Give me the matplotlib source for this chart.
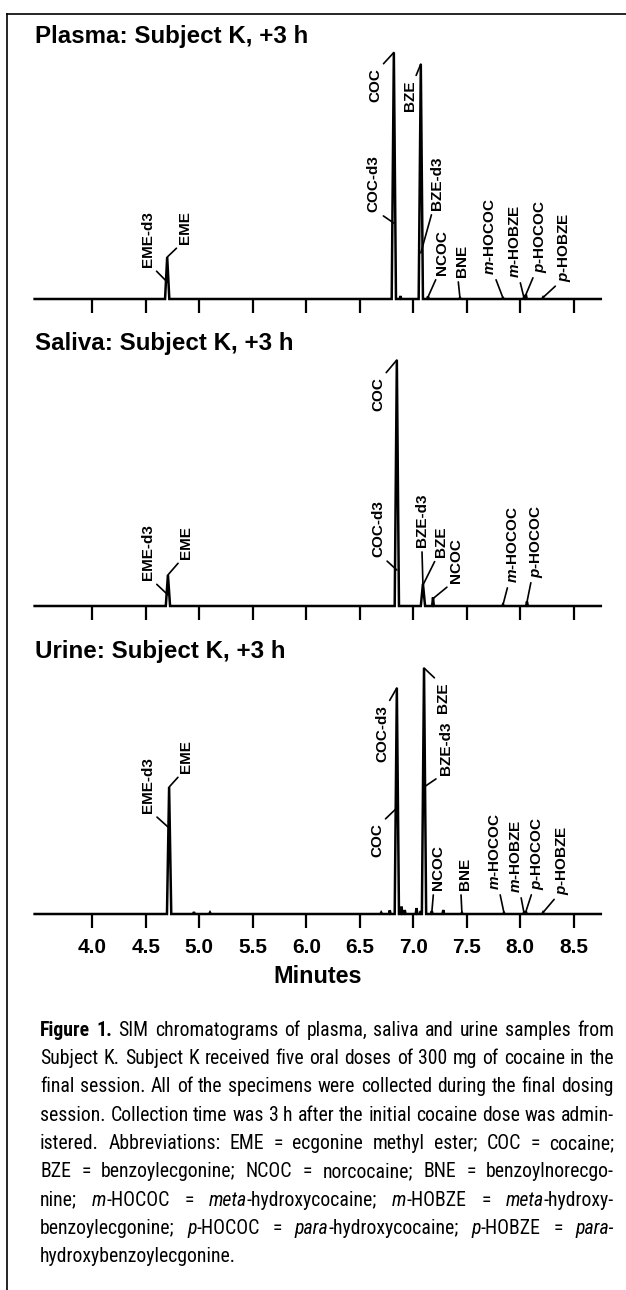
import numpy as np
import matplotlib
matplotlib.use('Agg')
import matplotlib.pyplot as plt
from matplotlib.lines import Line2D

plt.rcParams['font.family'] = ['Liberation Sans', 'DejaVu Sans']
plt.rcParams['mathtext.fontset'] = 'custom'
plt.rcParams['mathtext.it'] = 'Liberation Sans:italic:bold'
plt.rcParams['mathtext.rm'] = 'Liberation Sans:bold'
plt.rcParams['mathtext.bf'] = 'Liberation Sans:bold'

# ---- data: retention time (min) and height (% of tallest peak in the run)
plasma_rt = [4.700, 6.818, 6.880, 7.070, 7.137, 7.436, 7.838, 8.034, 8.052, 8.212]
plasma_h = [17.0, 100.0, 1.2, 95.3, 1.0, 0.4, 0.4, 0.6, 1.8, 0.6]

saliva_rt = [4.707, 6.846, 7.090, 7.184, 7.838, 8.062]
saliva_h = [12.6, 99.8, 9.0, 3.5, 0.6, 1.8]

urine_rt = [4.718, 4.95, 5.10, 6.70, 6.78, 6.846, 6.89, 6.92, 7.03, 7.07,
            7.100, 7.173, 7.28, 7.454, 7.847, 8.034, 8.052, 8.212]
urine_h = [51.5, 0.8, 0.6, 0.6, 1.5, 91.7, 3.0, 1.6, 2.4, 1.2,
           99.8, 1.2, 1.6, 0.5, 0.5, 0.6, 1.0, 0.6]

# peak labels: name, point on trace (time, height)
plasma_names = ['EME-d3', 'EME', 'COC', 'COC-d3', 'BZE', 'BZE-d3', 'NCOC', 'BNE',
                '$\\mathit{m}$-HOCOC', '$\\mathit{m}$-HOBZE', '$\\mathit{p}$-HOCOC', '$\\mathit{p}$-HOBZE']
plasma_pt_rt = [4.700, 4.700, 6.818, 6.818, 7.070, 7.070, 7.137, 7.436, 7.838, 8.034, 8.052, 8.212]
plasma_pt_h = [6.9, 17.0, 100.0, 30.8, 95.3, 18.7, 0.8, 0.4, 0.4, 0.5, 1.8, 0.6]

saliva_names = ['EME-d3', 'EME', 'COC', 'COC-d3', 'BZE-d3', 'BZE', 'NCOC',
                '$\\mathit{m}$-HOCOC', '$\\mathit{p}$-HOCOC']
saliva_pt_rt = [4.707, 4.707, 6.846, 6.846, 7.090, 7.090, 7.184, 7.838, 8.062]
saliva_pt_h = [4.5, 12.6, 99.8, 14.6, 8.5, 8.5, 3.0, 0.5, 1.6]

urine_names = ['EME-d3', 'EME', 'COC-d3', 'COC', 'BZE', 'BZE-d3', 'NCOC', 'BNE',
               '$\\mathit{m}$-HOCOC', '$\\mathit{m}$-HOBZE', '$\\mathit{p}$-HOCOC', '$\\mathit{p}$-HOBZE']
urine_pt_rt = [4.718, 4.718, 6.846, 6.846, 7.100, 7.100, 7.173, 7.454, 7.847, 8.034, 8.052, 8.212]
urine_pt_h = [34.9, 51.5, 91.7, 43.0, 99.8, 51.5, 0.8, 0.5, 0.5, 0.5, 1.0, 0.6]

# label placement (time of text centre, height of the text end, which end the leader meets)
plasma_lab_x = [4.522, 4.867, 6.645, 6.627, 6.969, 7.221, 7.268, 7.455, 7.717, 7.950, 8.184, 8.417]
plasma_lab_y = [13.0, 22.3, 93.7, 35.3, 88.8, 36.1, 9.7, 8.9, 9.7, 8.5, 10.5, 6.9]
plasma_lab_end = ['b', 'b', 't', 'b', 't', 'b', 'b', 'b', 'b', 'b', 'b', 'b']

saliva_lab_x = [4.522, 4.876, 6.673, 6.673, 7.080, 7.260, 7.400, 7.930, 8.155]
saliva_lab_y = [10.5, 19.1, 92.9, 19.9, 23.9, 19.9, 9.3, 9.3, 11.4]
saliva_lab_end = ['b', 'b', 't', 'b', 'b', 'b', 'b', 'b', 'b']

urine_lab_x = [4.522, 4.876, 6.715, 6.660, 7.278, 7.305, 7.230, 7.483, 7.763, 7.960, 8.165, 8.398]
urine_lab_y = [41.0, 57.2, 84.8, 36.9, 94.1, 56.4, 9.7, 9.7, 9.7, 8.5, 9.7, 7.7]
urine_lab_end = ['b', 'b', 't', 't', 't', 'b', 'b', 'b', 'b', 'b', 'b', 'b']

titles = ['Plasma: Subject K, +3 h', 'Saliva: Subject K, +3 h', 'Urine: Subject K, +3 h']
xticks = [4.0, 4.5, 5.0, 5.5, 6.0, 6.5, 7.0, 7.5, 8.0, 8.5]

caption_lines = [
    '^Figure 1.^ SIM chromatograms of plasma, saliva and urine samples from',
    'Subject K. Subject K received five oral doses of 300 mg of cocaine in the',
    'final session. All of the specimens were collected during the final dosing',
    'session. Collection time was 3 h after the initial cocaine dose was admin-',
    'istered. Abbreviations: EME = ecgonine methyl ester; COC = cocaine;',
    'BZE = benzoylecgonine; NCOC = norcocaine; BNE = benzoylnorecgo-',
    'nine; _m_-HOCOC = _meta_-hydroxycocaine; _m_-HOBZE = _meta_-hydroxy-',
    'benzoylecgonine; _p_-HOCOC = _para_-hydroxycocaine; _p_-HOBZE = _para-_',
    'hydroxybenzoylecgonine.',
]

# ---- layout (pixels)
W, H = 626, 1290
fig = plt.figure(figsize=(W / 100, H / 100), dpi=100)
X0, X1 = 34.6, 600.8
T0, T1 = 3.461, 8.752
PX_PER_PCT = 2.465
AX_H = 290
baselines = [299, 606, 914]


def trace(rt, h):
    t, y = [T0], [0.0]
    for r, v in sorted(zip(rt, h)):
        w = 0.02 if v > 5 else 0.008
        t += [r - w, r, r + w]
        y += [0.0, v, 0.0]
    t.append(T1)
    y.append(0.0)
    return t, y


runs = [
    (plasma_rt, plasma_h, plasma_names, plasma_pt_rt, plasma_pt_h, plasma_lab_x, plasma_lab_y, plasma_lab_end),
    (saliva_rt, saliva_h, saliva_names, saliva_pt_rt, saliva_pt_h, saliva_lab_x, saliva_lab_y, saliva_lab_end),
    (urine_rt, urine_h, urine_names, urine_pt_rt, urine_pt_h, urine_lab_x, urine_lab_y, urine_lab_end),
]

for i, (rt, hh, names, prt, ph, lx, ly, lend) in enumerate(runs):
    yb = baselines[i]
    ax = fig.add_axes([X0 / W, (H - yb) / H, (X1 - X0) / W, AX_H / H])
    ax.set_xlim(T0, T1)
    ax.set_ylim(0, AX_H / PX_PER_PCT)
    for s in ax.spines.values():
        s.set_visible(False)
    t, y = trace(rt, hh)
    ax.plot(t, y, color='black', lw=1.8, clip_on=False, solid_joinstyle='miter')
    ax.set_yticks([])
    ax.set_xticks(xticks)
    ax.tick_params(axis='x', direction='out', length=10, width=1.6, color='black')
    if i == 2:
        ax.set_xticklabels([f'{v:.1f}' for v in xticks], fontsize=15, fontweight='bold')
        ax.tick_params(axis='x', pad=7)
    else:
        ax.set_xticklabels([])
    ax.text(0.0, 256 / AX_H, titles[i], transform=ax.transAxes, fontsize=17.4,
            fontweight='bold', ha='left', va='baseline', color='black')
    for n, tx, ty, x, yv, e in zip(names, prt, ph, lx, ly, lend):
        side = np.sign(tx - x) if abs(tx - x) > 0.01 else 0
        rel = (0.5 + 0.3 * side, 0.0 if e == 'b' else 1.0)
        ax.annotate(n, xy=(tx, ty), xytext=(x, yv), rotation=90, ha='center',
                    va='bottom' if e == 'b' else 'top', fontsize=11, fontweight='bold',
                    annotation_clip=False,
                    arrowprops=dict(arrowstyle='-', lw=1.2, color='black',
                                    shrinkA=1.5, shrinkB=0, relpos=rel))

fig.text(317.7 / W, 1 - 983 / H, 'Minutes', fontsize=16.8, fontweight='bold',
         ha='center', va='baseline')

# frame lines
fig.add_artist(Line2D([7 / W, 7 / W], [0, 1 - 14 / H], color='black', lw=1.2))
fig.add_artist(Line2D([7 / W, 1], [1 - 14 / H, 1 - 14 / H], color='black', lw=1.2))


# ---- justified caption
def parse(line):
    words, runs_, buf = [], [], ''
    bold = ital = False
    for ch in line + ' ':
        if ch in '^_ ':
            if buf:
                runs_.append((buf, bold, ital))
                buf = ''
            if ch == '^':
                bold = not bold
            elif ch == '_':
                ital = not ital
            elif runs_:
                words.append(runs_)
                runs_ = []
        else:
            buf += ch
    return words


cap_family = ['Roboto Condensed', 'Liberation Sans Narrow', 'Liberation Sans']
renderer = fig.canvas.get_renderer()
CX0, CX1 = 40, 614


def mk(s, b, it, x, y, size):
    return fig.text(x / W, 1 - y / H, s, fontsize=size, family=cap_family,
                    fontweight='bold' if b else 'normal',
                    fontstyle='italic' if it else 'normal', ha='left', va='baseline')


def layout(size, place):
    sp = mk('a a', False, False, 0, 0, size)
    aa = mk('aa', False, False, 0, 0, size)
    space_w = sp.get_window_extent(renderer).width - aa.get_window_extent(renderer).width
    sp.remove()
    aa.remove()
    widest = 0
    for li, line in enumerate(caption_lines):
        yv = 1036 + li * 28.25
        words = parse(line)
        objs, widths = [], []
        for w in words:
            wo, ww = [], 0
            for s, b, it in w:
                o = mk(s, b, it, 0, yv, size)
                wd = o.get_window_extent(renderer).width
                wo.append((o, wd))
                ww += wd
            objs.append(wo)
            widths.append(ww)
        natural = sum(widths) + space_w * (len(words) - 1)
        if li < len(caption_lines) - 1:
            widest = max(widest, natural)
            gap = (CX1 - CX0 - sum(widths)) / (len(words) - 1)
        else:
            gap = space_w
        x = CX0
        for wo, ww in zip(objs, widths):
            xx = x
            for o, wd in wo:
                if place:
                    o.set_x(xx / W)
                else:
                    o.remove()
                xx += wd
            x += ww + gap
    return widest


probe = 13.0
widest = layout(probe, False)
cap_size = probe * 0.99 * (CX1 - CX0) / widest
layout(cap_size, True)

fig.savefig('out.png', dpi=100)
